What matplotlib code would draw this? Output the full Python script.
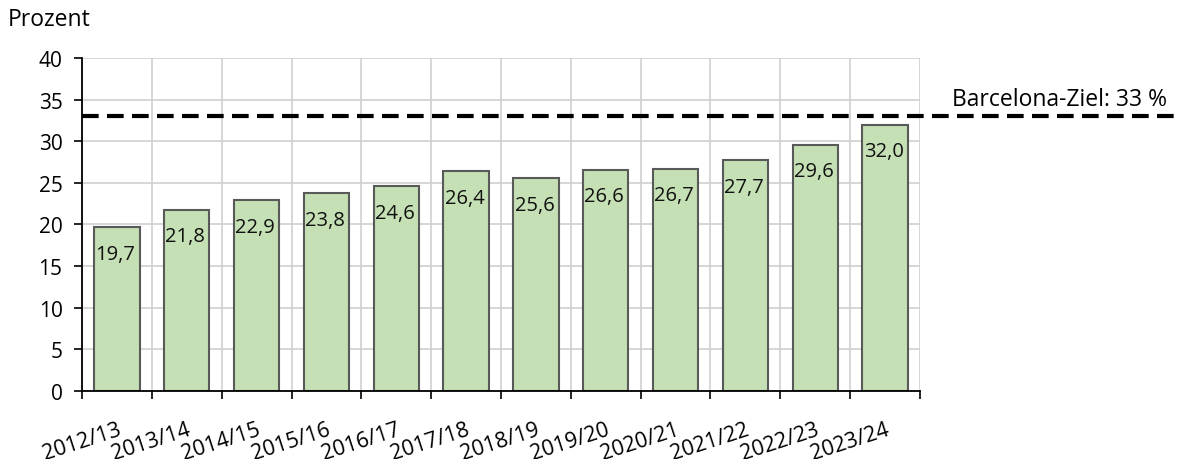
import numpy as np
import matplotlib.pyplot as plt

plt.rcParams['font.family'] = ['Open Sans', 'DejaVu Sans']

years = ["2012/13", "2013/14", "2014/15", "2015/16", "2016/17", "2017/18",
         "2018/19", "2019/20", "2020/21", "2021/22", "2022/23", "2023/24"]
values = [19.7, 21.8, 22.9, 23.8, 24.6, 26.4, 25.6, 26.6, 26.7, 27.7, 29.6, 32.0]
target = 33
target_label = "Barcelona-Ziel: 33 %"

fig = plt.figure(figsize=(11.81, 4.6), dpi=100)
ax = fig.add_axes([82/1181, 1 - 392/460, (920-82)/1181, (392-59)/460])

x = np.arange(len(years))
bars = ax.bar(x, values, width=0.65, color="#c5e0b4", edgecolor="#595959",
              linewidth=1.5, zorder=3)

# value labels sit inside the bar, just under its top
for b, v in zip(bars, values):
    ax.text(b.get_x() + 0.02, v - 3.2, f"{v:.1f}".replace(".", ","),
            ha="left", va="center", fontsize=14.5, color="#111111", zorder=4)

ax.set_xlim(-0.5, len(years) - 0.5)
ax.set_ylim(0, 40)
ax.set_yticks(range(0, 41, 5))
ax.set_xticks(np.arange(-0.5, len(years)), minor=False)
ax.set_xticklabels([])
ax.set_xticks(x, minor=True)
ax.set_xticklabels(years, minor=True, rotation=18, ha="right",
                   rotation_mode="anchor", fontsize=15.5)
ax.tick_params(axis="x", which="minor", length=0, pad=20)
ax.tick_params(axis="x", which="major", length=6, width=1.2, direction="out")
ax.tick_params(axis="y", length=6, width=1.2, labelsize=15, pad=8)
ax.grid(True, which="major", color="#d0d0d0", linewidth=1.2, zorder=0)
for s in ["top", "right"]:
    ax.spines[s].set_visible(False)
for s in ["left", "bottom"]:
    ax.spines[s].set_linewidth(1.3)
    ax.spines[s].set_zorder(5)

ax.plot([-0.5, 20], [target, target], color="black", linewidth=3,
        dashes=(4, 2), clip_on=False, zorder=4)
fig.text(952/1181, 1 - 100/460, target_label, ha="left", va="center", fontsize=16.5)
fig.text(8/1181, 1 - 20/460, "Prozent", ha="left", va="center", fontsize=16.5)

fig.savefig("out.png", dpi=100)
